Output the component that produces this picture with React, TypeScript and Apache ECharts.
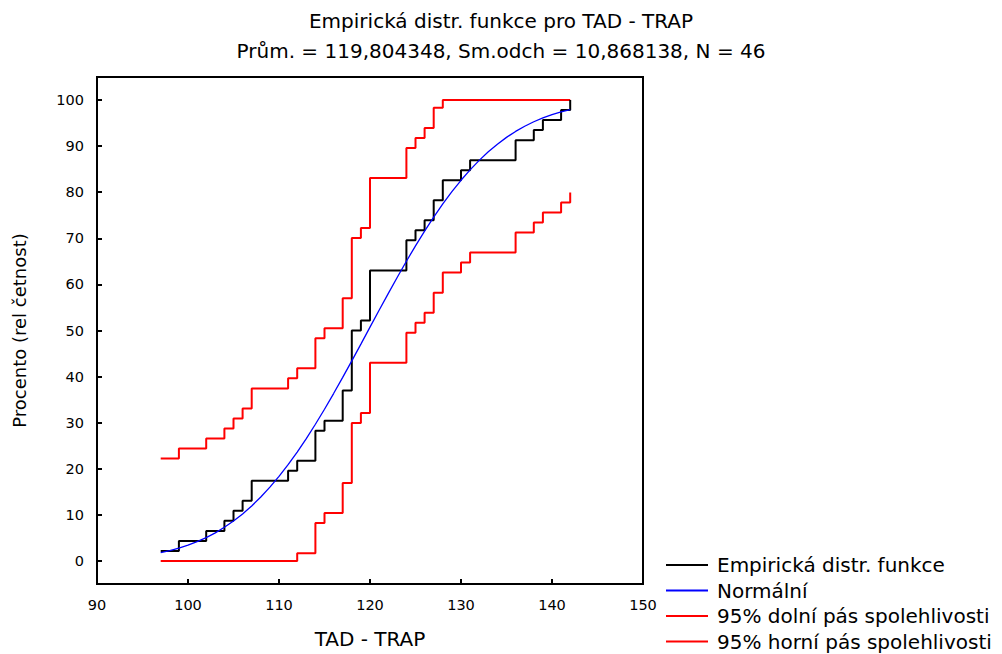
import React, { useEffect, useRef } from "react";
import * as echarts from "echarts";

// Distinct observed values of TAD - TRAP (N = 46) and cumulative percentages
const xValues = [97, 99, 102, 104, 105, 106, 107, 111, 112, 114, 115, 117, 118, 119, 120, 124, 125, 126, 127, 128, 130, 131, 136, 138, 139, 141, 142];
const ecdfPct = [2.17, 4.35, 6.52, 8.70, 10.87, 13.04, 17.39, 19.57, 21.74, 28.26, 30.43, 36.96, 50.0, 52.17, 63.04, 69.57, 71.74, 73.91, 78.26, 82.61, 84.78, 86.96, 91.30, 93.48, 95.65, 97.83, 100.0];
const lowerPct = [0, 0, 0, 0, 0, 0, 0, 0, 1.69, 8.21, 10.38, 16.91, 29.95, 32.12, 42.99, 49.52, 51.69, 53.86, 58.21, 62.56, 64.73, 66.91, 71.25, 73.43, 75.60, 77.78, 79.95];
const upperPct = [22.22, 24.40, 26.57, 28.75, 30.92, 33.09, 37.44, 39.62, 41.79, 48.31, 50.48, 57.01, 70.05, 72.22, 83.09, 89.62, 91.79, 93.96, 98.31, 100, 100, 100, 100, 100, 100, 100, 100];

// Normal curve read at integer x from 97 to 142
const normalX = [97, 98, 99, 100, 101, 102, 103, 104, 105, 106, 107, 108, 109, 110, 111, 112, 113, 114, 115, 116, 117, 118, 119, 120, 121, 122, 123, 124, 125, 126, 127, 128, 129, 130, 131, 132, 133, 134, 135, 136, 137, 138, 139, 140, 141, 142];
const normalPct = [1.79, 2.24, 2.78, 3.42, 4.18, 5.07, 6.10, 7.30, 8.66, 10.20, 11.94, 13.87, 16.01, 18.35, 20.89, 23.63, 26.56, 29.66, 32.92, 36.32, 39.82, 43.41, 47.05, 50.72, 54.38, 58.00, 61.56, 65.03, 68.37, 71.57, 74.60, 77.46, 80.13, 82.59, 84.85, 86.91, 88.77, 90.43, 91.90, 93.19, 94.32, 95.29, 96.13, 96.84, 97.44, 97.94];

const yTicks = [0, 10, 20, 30, 40, 50, 60, 70, 80, 90, 100];

const titleText = "Empirická distr. funkce pro TAD - TRAP";
const subtitleText = "Prům. = 119,804348, Sm.odch = 10,868138, N = 46";
const seriesNames = ["Empirická distr. funkce", "Normální", "95% dolní pás spolehlivosti", "95% horní pás spolehlivosti"];

const FONT = "DejaVu Sans";

export default function App() {
  const ref = useRef<HTMLDivElement>(null);
  useEffect(() => {
    if (!ref.current) return;
    const chart = echarts.init(ref.current, undefined, { renderer: "svg" });
    const pairs = (xs: number[], ys: number[]) => xs.map((x, i) => [x, ys[i]]);
    chart.setOption({
      animation: false,
      backgroundColor: "#fff",
      title: [
        { text: titleText, left: "center", top: 6, textStyle: { fontFamily: FONT, fontSize: 20, fontWeight: "normal", color: "#000" } },
        { text: subtitleText, left: "center", top: 36, textStyle: { fontFamily: FONT, fontSize: 20, fontWeight: "normal", color: "#000" } },
      ],
      grid: { left: 97, right: 359, top: 77, bottom: 68, show: true, borderColor: "#000", borderWidth: 2, backgroundColor: "transparent" },
      legend: {
        orient: "vertical",
        left: 666,
        top: 555,
        padding: 0,
        itemGap: 5.5,
        itemWidth: 42,
        itemHeight: 2,
        icon: "rect",
        data: seriesNames.map((n) => ({ name: n })),
        textStyle: { fontFamily: FONT, fontSize: 20, lineHeight: 20, color: "#000", padding: [0, 0, 0, 4] },
      },
      xAxis: {
        type: "value",
        min: 90,
        max: 150,
        interval: 10,
        name: "TAD - TRAP",
        nameLocation: "middle",
        nameGap: 45,
        nameTextStyle: { fontFamily: FONT, fontSize: 20, color: "#000" },
        axisLine: { show: true, onZero: false, lineStyle: { color: "#000", width: 2 } },
        axisTick: { show: true, inside: true, length: 5, lineStyle: { color: "#000", width: 2 } },
        axisLabel: { fontFamily: FONT, fontSize: 14.5, color: "#000", margin: 13 },
        splitLine: { show: false },
      },
      yAxis: {
        type: "value",
        min: -5,
        max: 105,
        name: "Procento (rel četnost)",
        nameLocation: "middle",
        nameGap: 69,
        nameRotate: 90,
        nameTextStyle: { fontFamily: FONT, fontSize: 18, color: "#000" },
        axisLine: { show: true, onZero: false, lineStyle: { color: "#000", width: 2 } },
        axisTick: { show: true, inside: true, length: 5, lineStyle: { color: "#000", width: 2 }, customValues: yTicks },
        axisLabel: { fontFamily: FONT, fontSize: 14.5, color: "#000", margin: 13, customValues: yTicks },
        splitLine: { show: false },
      },
      series: [
        { name: seriesNames[0], type: "line", step: "end", symbol: "none", data: pairs(xValues, ecdfPct), lineStyle: { color: "#000", width: 2 }, itemStyle: { color: "#000" }, z: 3 },
        { name: seriesNames[1], type: "line", smooth: false, symbol: "none", data: pairs(normalX, normalPct), lineStyle: { color: "#0000ff", width: 1.3 }, itemStyle: { color: "#0000ff" }, z: 4 },
        { name: seriesNames[2], type: "line", step: "end", symbol: "none", data: pairs(xValues, lowerPct), lineStyle: { color: "#ff0000", width: 2 }, itemStyle: { color: "#ff0000" }, z: 2 },
        { name: seriesNames[3], type: "line", step: "end", symbol: "none", data: pairs(xValues, upperPct), lineStyle: { color: "#ff0000", width: 2 }, itemStyle: { color: "#ff0000" }, z: 2 },
      ],
    });
    return () => chart.dispose();
  }, []);
  return <div ref={ref} style={{ position: "fixed", left: 0, top: 0, width: 1002, height: 654 }} />;
}
